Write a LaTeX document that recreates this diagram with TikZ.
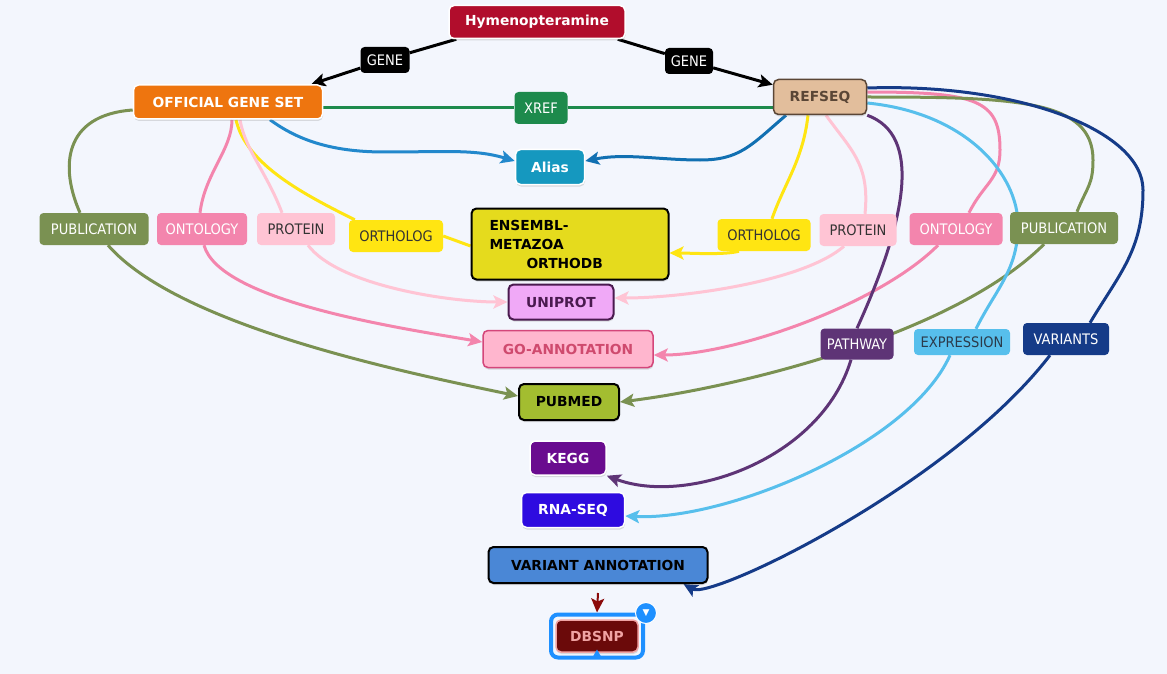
\documentclass[tikz,border=0pt]{standalone}
\usepackage{fontspec}
\setmainfont{DejaVu Sans}
\newfontfamily\condfont{DejaVu Sans Condensed}
\usepackage{tikz}
\usetikzlibrary{arrows.meta,positioning,shadows,shapes.geometric}

\definecolor{bgcol}{HTML}{F3F6FD}
\definecolor{hymcol}{HTML}{B10D2C}
\definecolor{ogscol}{HTML}{EE750F}
\definecolor{refcol}{HTML}{E2BE9C}
\definecolor{refline}{HTML}{5A4636}
\definecolor{aliascol}{HTML}{1598BF}
\definecolor{enscol}{HTML}{E5DB1D}
\definecolor{unicol}{HTML}{F0A9F7}
\definecolor{uniline}{HTML}{4A1A4F}
\definecolor{gocol}{HTML}{FFB6CE}
\definecolor{goline}{HTML}{D4467A}
\definecolor{gotext}{HTML}{CF4A6E}
\definecolor{pubmedcol}{HTML}{A3BD30}
\definecolor{keggcol}{HTML}{6A0C8F}
\definecolor{rnacol}{HTML}{2E0BE0}
\definecolor{varcol}{HTML}{4A87D6}
\definecolor{dbcol}{HTML}{6B0A0A}
\definecolor{dbline}{HTML}{F0A3A3}
\definecolor{selblue}{HTML}{1E90FF}
\definecolor{xrefcol}{HTML}{1D8A4C}
\definecolor{pubcol}{HTML}{7A9152}
\definecolor{ontcol}{HTML}{F385AD}
\definecolor{protcol}{HTML}{FFC4D4}
\definecolor{orthcol}{HTML}{FFE512}
\definecolor{pathcol}{HTML}{5E3476}
\definecolor{exprcol}{HTML}{57BFEC}
\definecolor{varline}{HTML}{153B88}
\definecolor{darktext}{HTML}{333333}
\definecolor{exprtext}{HTML}{2B3B4B}
\definecolor{aliasL}{HTML}{2288CC}
\definecolor{aliasR}{HTML}{1170B2}
\definecolor{dbarrow}{HTML}{8B0A0A}

\pgfdeclarelayer{bg}
\pgfdeclarelayer{edges}
\pgfsetlayers{bg,edges,main}

\tikzset{
  entity/.style={rectangle, rounded corners=5pt, draw=white, line width=1.5pt,
    font=\fontsize{13.8}{16}\selectfont\bfseries, text=white, inner sep=0pt,
    minimum height=34pt,
    drop shadow={shadow xshift=0.5pt, shadow yshift=-2pt, opacity=0.25}},
  relation/.style={rectangle, rounded corners=4pt,
    font=\condfont\fontsize{14.5}{16}\selectfont, text=white, inner sep=0pt,
    minimum height=32pt},
  link/.style={line width=3pt, -{Stealth[length=14pt,width=13pt,inset=3pt]}},
  plain/.style={line width=3pt}
}

\begin{document}
\begin{tikzpicture}[x=1pt, y=-1pt]
    \useasboundingbox (0,0) rectangle (1167,674);
    \begin{pgfonlayer}{bg}
        \fill[bgcol] (0,0) rectangle (1167,674);
    \end{pgfonlayer}

    % Sources and databases
    \node[entity, fill=hymcol, minimum width=176pt, minimum height=33pt] (hymen) at (537,22) {Hymenopteramine};
    \node[entity, fill=ogscol, minimum width=189pt] (ogs) at (228,102) {OFFICIAL GENE SET};
    \node[entity, fill=refcol, draw=refline, text=refline, minimum width=93pt, minimum height=35pt] (refseq) at (820,97) {REFSEQ};
    \node[entity, fill=aliascol, minimum width=69pt, minimum height=35pt] (alias) at (550,167) {Alias};
    \node[entity, fill=enscol, draw=black, line width=2pt, text=black, minimum width=197pt, minimum height=71pt,
        text width=161pt, align=left, font=\fontsize{13.8}{19}\selectfont\bfseries] (ensembl) at (570,244)
        {ENSEMBL-\\METAZOA\\\hspace*{37pt}ORTHODB};
    \node[entity, fill=unicol, draw=uniline, line width=2pt, text=uniline, minimum width=105pt, minimum height=35pt] (uniprot) at (561,302) {UNIPROT};
    \node[entity, fill=gocol, draw=goline, text=gotext, minimum width=170pt, minimum height=37pt] (goann) at (568,349) {GO-ANNOTATION};
    \node[entity, fill=pubmedcol, draw=black, line width=2pt, text=black, minimum width=100pt, minimum height=36pt] (pubmed) at (569,402) {PUBMED};
    \node[entity, fill=keggcol, minimum width=76pt] (kegg) at (568,458) {KEGG};
    \node[entity, fill=rnacol, minimum width=103pt, minimum height=35pt] (rnaseq) at (573,510) {RNA-SEQ};
    \node[entity, fill=varcol, draw=black, line width=2pt, text=black, minimum width=219pt, minimum height=36pt] (varann) at (598,565) {VARIANT ANNOTATION};

    % Selected node
    \node[rectangle, rounded corners=7pt, draw=selblue, line width=4pt, minimum width=92pt, minimum height=43pt] (dbsnpsel) at (597,636) {};
    \node[entity, fill=dbcol, draw=dbline, text=dbline, minimum width=82pt, minimum height=32pt] (dbsnp) at (597,636) {DBSNP};
    \node[regular polygon, regular polygon sides=3, fill=selblue, inner sep=0pt, minimum size=9pt] (dbsnptip) at (597,654) {};
    \node[circle, fill=selblue, draw=white, line width=1pt, minimum size=21pt, inner sep=0pt, text=white,
        font=\fontsize{9}{9}\selectfont] (dbsnpbadge) at (646,613) {▼};

    % Relation labels
    \node[relation, fill=black, minimum width=49pt, minimum height=26pt] (geneL) at (385,60) {GENE};
    \node[relation, fill=black, minimum width=48pt, minimum height=26pt] (geneR) at (689,61) {GENE};
    \node[relation, fill=xrefcol, minimum width=53pt] (xref) at (541,108) {XREF};
    \node[relation, fill=pubcol, minimum width=109pt] (pubL) at (94,229) {PUBLICATION};
    \node[relation, fill=ontcol, minimum width=90pt] (ontL) at (202,229) {ONTOLOGY};
    \node[relation, fill=protcol, text=darktext, minimum width=78pt] (protL) at (296,229) {PROTEIN};
    \node[relation, fill=orthcol, text=darktext, minimum width=94pt] (orthL) at (396,236) {ORTHOLOG};
    \node[relation, fill=orthcol, text=darktext, minimum width=93pt] (orthR) at (764,235) {ORTHOLOG};
    \node[relation, fill=protcol, text=darktext, minimum width=77pt] (protR) at (858,230) {PROTEIN};
    \node[relation, fill=ontcol, minimum width=93pt] (ontR) at (956,229) {ONTOLOGY};
    \node[relation, fill=pubcol, minimum width=108pt] (pubR) at (1064,228) {PUBLICATION};
    \node[relation, fill=pathcol, minimum width=73pt, minimum height=31pt] (pathway) at (857,344) {PATHWAY};
    \node[relation, fill=exprcol, text=exprtext, minimum width=96pt, minimum height=26pt] (expression) at (962,342) {EXPRESSION};
    \node[relation, fill=varline, minimum width=86pt] (variants) at (1066,339) {VARIANTS};

    \begin{pgfonlayer}{edges}
    % Gene links
    \draw[link, black] ([xshift=8pt]hymen.south west) -- (geneL) -- ([xshift=-12pt]ogs.north east);
    \draw[link, black] ([xshift=-8pt]hymen.south east) -- (geneR) -- ([yshift=-6pt]refseq.north west);
    \draw[plain, xrefcol] (ogs.east |- xref) -- (xref) -- (refseq.west |- xref);

    % Alias
    \draw[link, aliasL] ([xshift=42pt]ogs.south) .. controls +(30,22) and +(-50,0) .. (385,152)
        .. controls +(60,0) and +(-40,-12) .. ([yshift=6pt]alias.west);
    \draw[link, aliasR] ([xshift=-34pt]refseq.south) .. controls +(-35,30) and +(40,0) .. (700,160)
        .. controls +(-40,0) and +(40,-8) .. ([yshift=6pt]alias.east);

    % Ortholog
    \draw[plain, orthcol] ([xshift=8pt]ogs.south) .. controls +(10,45) and +(-50,-25) .. ([xshift=6pt]orthL.north west);
    \draw[plain, orthcol] (orthL.east) -- ([yshift=-2pt]ensembl.west);
    \draw[plain, orthcol] ([xshift=-12pt]refseq.south) .. controls +(-5,45) and +(12,-35) .. ([xshift=8pt]orthR.north);
    \draw[link, orthcol] ([xshift=-25pt]orthR.south) .. controls +(-15,4) and +(20,0) .. ([yshift=-9pt]ensembl.east);

    % Protein
    \draw[plain, protcol] ([xshift=12pt]ogs.south) .. controls +(5,30) and +(-15,-40) .. ([xshift=-14pt]protL.north);
    \draw[link, protcol] ([xshift=12pt]protL.south) .. controls +(30,40) and +(-60,0) .. (uniprot.west);
    \draw[plain, protcol] ([xshift=6pt]refseq.south) .. controls +(25,35) and +(5,-50) .. ([xshift=7pt]protR.north);
    \draw[link, protcol] ([xshift=-14pt]protR.south) .. controls +(-40,35) and +(70,0) .. ([yshift=4pt]uniprot.east);

    % Ontology
    \draw[plain, ontcol] ([xshift=4pt]ogs.south) .. controls +(0,30) and +(5,-40) .. ([xshift=-2pt]ontL.north);
    \draw[link, ontcol] ([xshift=2pt]ontL.south) .. controls +(15,55) and +(-90,-15) .. ([yshift=7pt]goann.west);
    \draw[plain, ontcol] ([yshift=5pt]refseq.east) .. controls +(110,0) and +(0,-50) .. (1000,150)
        .. controls +(0,30) and +(15,-30) .. ([xshift=13pt]ontR.north);
    \draw[link, ontcol] ([xshift=-18pt]ontR.south) .. controls +(-60,60) and +(80,0) .. ([yshift=-6pt]goann.east);

    % Publication
    \draw[plain, pubcol] ([yshift=-8pt]ogs.west) .. controls +(-70,5) and +(-20,-45) .. ([xshift=-14pt]pubL.north);
    \draw[link, pubcol] ([xshift=14pt]pubL.south) .. controls +(70,80) and +(-120,-25) .. ([yshift=6pt]pubmed.west);
    \draw[plain, pubcol] (refseq.east) .. controls +(150,0) and +(0,-60) .. (1093,160)
        .. controls +(0,25) and +(10,-25) .. ([xshift=13pt]pubR.north);
    \draw[link, pubcol] ([xshift=-20pt]pubR.south) .. controls +(-90,90) and +(120,-15) .. (pubmed.east);

    % Pathway, expression, variants
    \draw[plain, pathcol] (refseq.south east) .. controls +(55,20) and +(50,-110) .. (pathway.north);
    \draw[link, pathcol] ([xshift=-6pt]pathway.south) .. controls +(-30,100) and +(80,30) .. (kegg.south east);
    \draw[plain, exprcol] ([yshift=-6pt]refseq.east) .. controls +(100,10) and +(0,-50) .. (1018,225)
        .. controls +(0,45) and +(20,-40) .. ([xshift=14pt]expression.north);
    \draw[link, exprcol] ([xshift=-12pt]expression.south) .. controls +(-40,90) and +(100,5) .. ([yshift=-6pt]rnaseq.east);
    \draw[plain, varline] ([yshift=9pt]refseq.east) .. controls +(150,-5) and +(0,-60) .. (1143,190)
        .. controls +(0,60) and +(30,-50) .. ([xshift=24pt]variants.north);
    \draw[link, varline] ([xshift=-16pt]variants.south) .. controls +(-100,130) and +(28,16) .. ([xshift=-25pt]varann.south east);
    \draw[link, dbarrow, line width=2pt] ([yshift=-9pt]varann.south) -- (dbsnpsel.north);
    \end{pgfonlayer}

\end{tikzpicture}
\end{document}
